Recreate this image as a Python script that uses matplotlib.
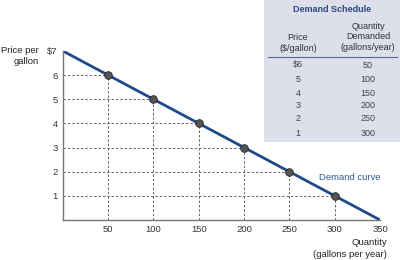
import matplotlib
matplotlib.use("Agg")
import matplotlib.pyplot as plt
from matplotlib.patches import Rectangle
from matplotlib.lines import Line2D

plt.rcParams['font.family'] = ['Liberation Sans', 'DejaVu Sans']

prices = [6, 5, 4, 3, 2, 1]
quantities = [50, 100, 150, 200, 250, 300]
curve_q = [0, 350]
curve_p = [7, 0]
x_ticks = [50, 100, 150, 200, 250, 300, 350]
y_ticks = [1, 2, 3, 4, 5, 6, 7]
y_ticklabels = ['1', '2', '3', '4', '5', '6', '$7']
price_labels = ['$6', '5', '4', '3', '2', '1']

fig = plt.figure(figsize=(4, 2.6), dpi=100)
ax = fig.add_axes([0.157, 0.154, 0.793, 0.65])
ax.set_xlim(0, 350)
ax.set_ylim(0, 7)

line_col = '#1f4a87'
grid_col = '#666666'
for q, p in zip(quantities, prices):
    ax.plot([0, q], [p, p], ls=(0, (2.5, 2)), lw=0.7, color=grid_col, zorder=1)
    ax.plot([q, q], [0, p], ls=(0, (2.5, 2)), lw=0.7, color=grid_col, zorder=1)
ax.plot(curve_q, curve_p, color=line_col, lw=2, zorder=2, solid_capstyle='butt')
ax.plot(quantities, prices, 'o', ms=5.5, mfc='#555555', mec='#222222', mew=0.6, zorder=3)

for s in ['top', 'right']:
    ax.spines[s].set_visible(False)
for s in ['left', 'bottom']:
    ax.spines[s].set_color('#777777')
    ax.spines[s].set_linewidth(1)
ax.set_xticks(x_ticks)
ax.set_yticks(y_ticks)
ax.set_yticklabels(y_ticklabels)
ax.tick_params(length=0, labelsize=6.8, colors='#333333')
ax.tick_params(axis='x', pad=3.5)
ax.tick_params(axis='y', pad=3.5)

fig.text(39 / 400, 1 - 56 / 260, 'Price per\ngallon', ha='right', va='center', fontsize=6.8,
         color='#222222', linespacing=1.3, multialignment='right')
fig.text(387 / 400, 1 - 248.5 / 260, 'Quantity\n(gallons per year)', ha='right', va='center',
         fontsize=6.8, color='#222222', linespacing=1.3, multialignment='right')
ax.text(317, 1.74, 'Demand curve', ha='center', va='center', fontsize=6.8, color='#2e5a98')

# Demand schedule table
W, H = 400, 260
def fx(x): return x / W
def fy(y): return 1 - y / H
fig.patches.append(Rectangle((fx(264), fy(142)), fx(136), 142 / H,
                             transform=fig.transFigure, facecolor='#dde0ea',
                             edgecolor='none', zorder=0))
fig.text(fx(332), fy(10), 'Demand Schedule', ha='center', va='center', fontsize=6.5,
         fontweight='bold', color='#2b4a7c')
fig.text(fx(368), fy(37), 'Quantity\nDemanded\n(gallons/year)', ha='center', va='center',
         fontsize=6.5, color='#333333', linespacing=1.25)
fig.text(fx(298), fy(43), 'Price\n($/gallon)', ha='center', va='center',
         fontsize=6.5, color='#333333', linespacing=1.25)
fig.add_artist(Line2D([fx(268), fx(397)], [fy(57), fy(57)], transform=fig.transFigure,
                      color='#556688', lw=0.8))
row_y = [65, 79, 93, 106, 119, 133]
for yy, pl, q in zip(row_y, price_labels, quantities):
    fig.text(fx(298), fy(yy), pl, ha='center', va='center', fontsize=6.5, color='#444444')
    fig.text(fx(368), fy(yy), str(q), ha='center', va='center', fontsize=6.5, color='#444444')

fig.savefig('out.png', dpi=100)
